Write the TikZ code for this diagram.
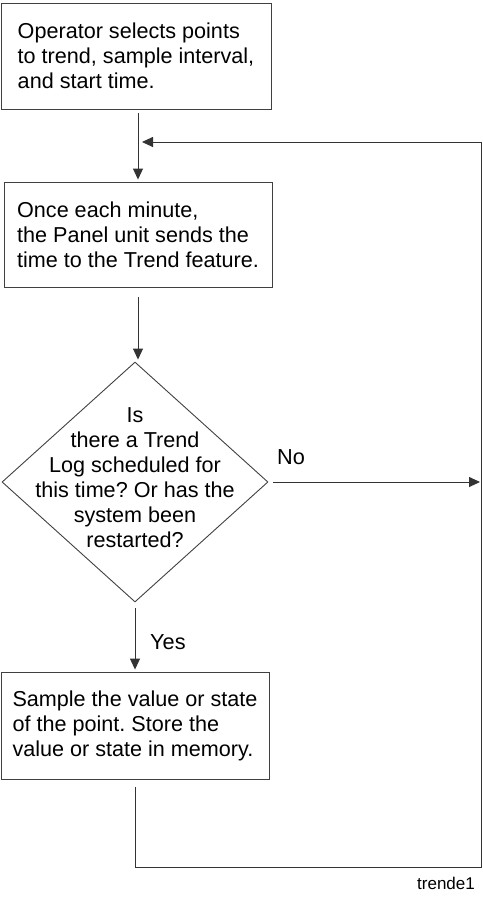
\documentclass[tikz,border=0pt]{standalone}
\usepackage{fontspec}
\setmainfont{Liberation Sans}
\usetikzlibrary{shapes.geometric,arrows.meta}
\begin{document}
\frenchspacing
\begin{tikzpicture}[x=1pt,y=-1pt,
  stepbox/.style={draw=black!75, line width=0.9pt, align=left, inner xsep=8pt, inner ysep=0pt, font=\fontsize{21.6}{25}\selectfont},
  flow/.style={draw=black!80, line width=0.9pt, -{Triangle[length=11pt,width=10pt]}},
  lbl/.style={font=\fontsize{21.7}{24}\selectfont, inner sep=0pt}]
\useasboundingbox (0,0) rectangle (482,897);
\node[stepbox, minimum width=270pt, minimum height=106pt] (b1) at (136,56)
  {Operator selects points\\to trend, sample interval,\\and start time.};
\node[stepbox, minimum width=268pt, minimum height=105pt] (b2) at (138,234.5)
  {Once each minute,\\the Panel unit sends the\\time to the Trend feature.};
\node[diamond, draw=black!75, line width=0.9pt, minimum width=266pt, minimum height=240pt, inner sep=0pt] (d) at (135,482) {};
\node[align=center, inner sep=0pt, font=\fontsize{21.6}{25}\selectfont] (dt) at (135,478)
  {Is\\there a Trend\\Log scheduled for\\this time? Or has the\\system been\\restarted?};
\node[stepbox, minimum width=268pt, minimum height=107pt] (b3) at (135,725.5)
  {Sample the value or state\\of the point. Store the\\value or state in memory.};
\coordinate (br) at (481,867);
\coordinate (tr) at (481,142);
\draw[flow, shorten <=4pt, shorten >=2pt] (b2.north |- b1.south) -- (b2.north);
\draw[flow, shorten <=10pt, shorten >=2pt] (b2.south) -- (b2.south |- d.north);
\draw[flow, shorten <=6pt, shorten >=2pt] (d.south) -- (d.south |- b3.north);
\draw[flow, shorten <=5pt, shorten >=1pt] (d.east) -- (d.east -| tr);
\draw[flow, shorten <=8pt, shorten >=4pt] (b3.south) -- (b3.south |- br) -- (br) -- (tr) -- (tr -| b2.north);
\node[lbl, anchor=west] (no) at (277,457) {No};
\node[lbl, anchor=west] (yes) at (150,642) {Yes};
\node[font=\fontsize{17}{19}\selectfont, inner sep=0pt] (tag) at (446,883) {trende1};
\end{tikzpicture}
\end{document}
